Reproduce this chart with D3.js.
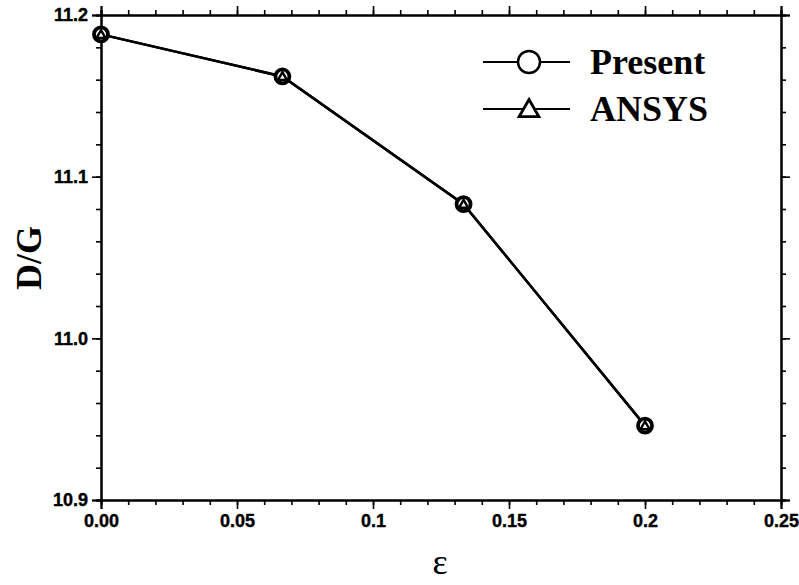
<!DOCTYPE html>
<html>
<head>
<meta charset="utf-8">
<script src="https://cdn.jsdelivr.net/npm/d3@7"></script>
<style>
  body { margin: 0; background: #fff; }
</style>
</head>
<body>
<div id="chartContainer"></div>
<script>
// data
var epsilon = [0, 0.0667, 0.1333, 0.2];
var presentValues = [11.188, 11.162, 11.083, 10.946];
var ansysValues = [11.188, 11.162, 11.083, 10.946];
var xTicks = [0, 0.05, 0.1, 0.15, 0.2, 0.25];
var xTickLabels = ["0.00", "0.05", "0.1", "0.15", "0.2", "0.25"];
var yTicks = [10.9, 11.0, 11.1, 11.2];
var yTickLabels = ["10.9", "11.0", "11.1", "11.2"];
var seriesNames = ["Present", "ANSYS"];

var margin = { top: 15, right: 18, bottom: 85, left: 101 };
var width = 799 - margin.left - margin.right;
var height = 585 - margin.top - margin.bottom;

var svg = d3.select("#chartContainer")
  .append("svg")
  .attr("width", 799)
  .attr("height", 585)
  .append("g")
  .attr("transform", "translate(" + margin.left + "," + margin.top + ")");

var x = d3.scaleLinear().domain([0, 0.25]).range([0, width]);
var y = d3.scaleLinear().domain([10.9, 11.2]).range([height, 0]);

var xMinor = d3.range(0, 0.2501, 0.01);
var yMinor = d3.range(10.9, 11.2001, 0.02);

function styleAxis(g) {
  g.selectAll("path").attr("stroke", "#000").attr("stroke-width", 2);
  g.selectAll("line").attr("stroke", "#000").attr("stroke-width", 1.6);
  g.selectAll("text")
    .attr("fill", "#000")
    .attr("stroke", "#000")
    .attr("stroke-width", 0.4)
    .attr("font-family", "Liberation Sans, Arial, sans-serif")
    .attr("font-weight", "bold")
    .attr("font-size", "18px");
}

// minor ticks
svg.append("g").attr("transform", "translate(0," + height + ")")
  .call(d3.axisBottom(x).tickValues(xMinor).tickSize(5).tickFormat(""))
  .call(styleAxis);
svg.append("g")
  .call(d3.axisTop(x).tickValues(xMinor).tickSize(5).tickFormat(""))
  .call(styleAxis);
svg.append("g")
  .call(d3.axisLeft(y).tickValues(yMinor).tickSize(5).tickFormat(""))
  .call(styleAxis);
svg.append("g").attr("transform", "translate(" + width + ",0)")
  .call(d3.axisRight(y).tickValues(yMinor).tickSize(5).tickFormat(""))
  .call(styleAxis);

// major ticks
svg.append("g").attr("transform", "translate(0," + height + ")")
  .call(d3.axisBottom(x).tickValues(xTicks).tickSize(9).tickPadding(5)
    .tickFormat(function(d, i) { return xTickLabels[i]; }))
  .call(styleAxis);
svg.append("g")
  .call(d3.axisTop(x).tickValues(xTicks).tickSize(9).tickFormat(""))
  .call(styleAxis);
svg.append("g")
  .call(d3.axisLeft(y).tickValues(yTicks).tickSize(9).tickPadding(4)
    .tickFormat(function(d, i) { return yTickLabels[i]; }))
  .call(styleAxis);
svg.append("g").attr("transform", "translate(" + width + ",0)")
  .call(d3.axisRight(y).tickValues(yTicks).tickSize(9).tickFormat(""))
  .call(styleAxis);

// series line
var line = d3.line()
  .x(function(d, i) { return x(epsilon[i]); })
  .y(function(d) { return y(d); });

svg.append("path")
  .datum(presentValues)
  .attr("fill", "none")
  .attr("stroke", "#000")
  .attr("stroke-width", 2.5)
  .attr("d", line);

svg.append("path")
  .datum(ansysValues)
  .attr("fill", "none")
  .attr("stroke", "#000")
  .attr("stroke-width", 2.5)
  .attr("d", line);

var triSym = d3.symbol().type(d3.symbolTriangle);

svg.selectAll(".present")
  .data(presentValues)
  .enter()
  .append("circle")
  .attr("class", "present")
  .attr("cx", function(d, i) { return x(epsilon[i]); })
  .attr("cy", function(d) { return y(d); })
  .attr("r", 7)
  .attr("fill", "#fff")
  .attr("stroke", "#000")
  .attr("stroke-width", 3.8);

svg.selectAll(".ansys")
  .data(ansysValues)
  .enter()
  .append("path")
  .attr("class", "ansys")
  .attr("transform", function(d, i) { return "translate(" + x(epsilon[i]) + "," + (y(d) + 1) + ")"; })
  .attr("d", triSym.size(36))
  .attr("fill", "none")
  .attr("stroke", "#000")
  .attr("stroke-width", 2.4);

// legend
var legend = svg.append("g").attr("transform", "translate(" + (483 - margin.left) + "," + (62 - margin.top) + ")");
seriesNames.forEach(function(name, i) {
  var row = legend.append("g").attr("transform", "translate(0," + (i * 47) + ")");
  row.append("line")
    .attr("x1", 0).attr("x2", 87)
    .attr("y1", 0).attr("y2", 0)
    .attr("stroke", "#000").attr("stroke-width", 2.2);
  if (i === 0) {
    row.append("circle")
      .attr("cx", 46).attr("cy", 0).attr("r", 11)
      .attr("fill", "#fff").attr("stroke", "#000").attr("stroke-width", 2.5);
  } else {
    row.append("path")
      .attr("transform", "translate(46,2)")
      .attr("d", triSym.size(170))
      .attr("fill", "#fff").attr("stroke", "#000").attr("stroke-width", 2.8);
  }
  row.append("text")
    .attr("x", 107)
    .attr("y", 12)
    .attr("font-family", "Liberation Serif, Times New Roman, serif")
    .attr("font-weight", "bold")
    .attr("font-size", "36px")
    .text(name);
});

// axis titles
svg.append("text")
  .attr("transform", "translate(" + (41 - margin.left) + "," + (258 - margin.top) + ") rotate(-90)")
  .attr("text-anchor", "middle")
  .attr("font-family", "Liberation Serif, Times New Roman, serif")
  .attr("font-weight", "bold")
  .attr("font-size", "36px")
  .text("D/G");

svg.append("text")
  .attr("x", 440 - margin.left)
  .attr("y", 574 - margin.top)
  .attr("text-anchor", "middle")
  .attr("font-family", "Liberation Serif, Times New Roman, serif")
  .attr("font-size", "36px")
  .text("ε");
</script>
</body>
</html>
